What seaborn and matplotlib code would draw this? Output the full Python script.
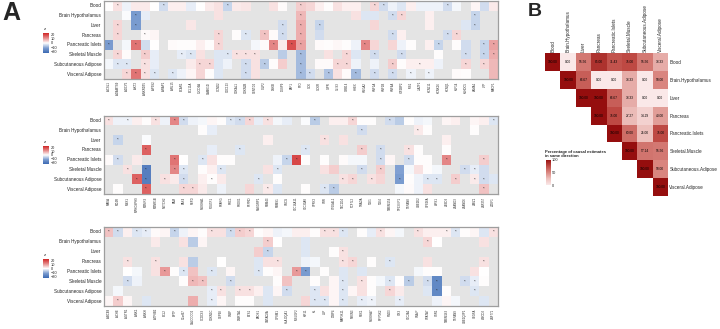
import numpy as np
import pandas as pd
import matplotlib.pyplot as plt
import seaborn as sns
from matplotlib.colors import LinearSegmentedColormap

sns.set_style('white')
plt.rcParams['font.family'] = ['Liberation Sans', 'DejaVu Sans']

tissues = ['Blood', 'Brain Hypothalamus', 'Liver', 'Pancreas', 'Pancreatic Islets',
           'Skeletal Muscle', 'Subcutaneous Adipose', 'Visceral Adipose']
tissues_b = [t.replace(' ', '.') for t in tissues]

# panel A, top
genes_1 = ['ACSL1', 'ADAMTS9', 'ADCY5', 'AKT2', 'ANKRD55', 'AP3S2', 'ARAP1', 'ARL15', 'BCAR1',
           'BCL11A', 'C2CD4A', 'CAMK1D', 'CCND2', 'CDC123', 'CDKAL1', 'CDKN2B', 'CENTD2', 'CILP2',
           'DGKB', 'DUSP9', 'FAF1', 'FTO', 'GCK', 'GCKR', 'GIPR', 'GLIS3', 'GRB14', 'HHEX', 'HMGA2',
           'HNF1A', 'HNF1B', 'HNF4A', 'IGF2BP2', 'IRS1', 'JAZF1', 'KCNJ11', 'KCNK16', 'KCNQ1',
           'KLF14', 'KLHDC5', 'LAMA1', 'LPP', 'MACF1']
# "column:z" per tissue, * = significant, missing = no estimate
z_1 = [
    "0:0 1:3* 2:-1.5 3:2 4:2 5:0 6:-4* 7:1.5 8:1.5 9:-2 10:0 11:2 12:3 13:-5* 14:2 15:2.5 18:3 19:0.5 "
    "21:5* 22:4 23:1.5 24:0.3 25:3 26:1.5 27:1.5 29:4* 30:-4* 31:-1.5 32:-3 33:1.5 34:-1.5 35:-1.5 "
    "36:-1.5 37:-4* 38:-1 40:1 41:-4 42:2",
    "2:-0.5 3:-12* 4:-2 12:3 21:7* 27:3 28:-3 29:-3 31:-4* 32:4* 35:1.5 40:-5*",
    "1:4* 3:-12* 9:2.5 19:-4* 21:8* 23:-5* 29:4 35:1.5 39:-3 40:-5*",
    "1:4* 4:0.5* 5:1 12:4* 14:0.3 15:-3* 17:6* 18:0.5 19:-4* 21:8* 23:-4 31:-4* 32:1.5 37:-4* 38:4*",
    "0:-12* 2:-1 3:14* 4:-4 5:0 7:0.5 8:0.2 9:0.3 10:1.5 11:0.2 12:4* 16:-1 17:0.5 18:12* 19:2 20:18* "
    "21:9* 23:0.5 24:0.2 25:0.8 26:0.3 27:-1.5 28:12* 29:4 31:4 32:-1.5 33:0.2 35:1.5 36:-5* 38:0.2 "
    "39:-4 41:-5* 42:9*",
    "1:4* 2:0.5 4:5* 5:-2 8:-2* 9:-3* 10:3 12:-3 13:-3* 14:3* 15:3* 16:3* 19:-6 21:-8* 24:3 26:4* "
    "27:-3 29:-4* 32:-4* 36:0.3 39:-4* 41:-5* 42:8*",
    "0:-1 1:-3* 2:-3* 4:3* 5:-2 9:2 10:4* 11:4* 12:-3 13:-1.5 15:-4* 16:3 17:-6* 18:0.3 19:5 21:-8* "
    "23:0.5 24:0.5 25:4* 26:4* 27:-1.5 29:-1.5 31:5* 32:0.3 33:1.5 34:1.5* 35:1.5 36:-1.5 39:4* 41:4* 42:7",
    "2:4* 3:14* 4:3* 5:-3* 7:-3* 8:-1.5 9:1 10:4 11:0.3 12:-3 15:-4* 16:3 21:-8* 22:-4* 24:-7* 25:3 "
    "26:0.5 27:-8* 29:-4* 31:-4* 33:-1.5* 35:-1.5* 38:0.5 39:0.3 42:7",
]

# panel A, middle
genes_2 = ['MAEA', 'MC4R', 'MNX1', 'MPHOSPH9', 'MTMR3', 'MTNR1B', 'NOTCH2', 'PAM', 'PAX4', 'PEPD',
           'PLEKHA1', 'POU5F1', 'PPARG', 'PRC1', 'PROX1', 'PTPRD', 'RASGRP1', 'RBM43', 'RBMS1',
           'SGCG', 'SLC16A11', 'SLC30A8', 'SPRY2', 'SRR', 'ST6GAL1', 'TBC1D4', 'TCF7L2', 'THADA',
           'TLE1', 'TLE4', 'TMEM154', 'TP53INP1', 'TSPAN8', 'UBE2E2', 'VPS26A', 'WFS1', 'ZBED3',
           'ZFAND3', 'ZFAND6', 'ZMIZ1', 'ZNF257', 'ZZEF1']
z_2 = [
    "0:3* 1:-1.5 2:-1.5* 3:1.5 4:0.3 5:3* 6:-1.5 7:12* 8:-4* 9:-1.5 10:-1 11:1 12:0.3 13:-3* 14:-4* "
    "15:4* 16:-2 17:3* 18:-1 19:-2 21:-0.5 22:-6* 24:1.5 25:1.5 26:4* 27:0.3 28:0.2 30:-4* 31:-6 "
    "32:0.3 33:-1.5 34:-1 36:1 37:1.5 39:1 40:1.5 41:-3*",
    "10:0.2 11:-2 27:-4* 33:2* 34:0.2 39:0.2",
    "1:-5* 4:-0.5 17:1.5 23:3* 25:3 36:1.5",
    "4:16* 11:-2 14:-3* 21:-3* 27:5* 29:-4* 32:3* 33:0.2 36:0.3",
    "0:0.5 1:-4* 3:2 7:14* 8:0.1 10:-3* 11:3 12:0.3 13:0.2 18:-1.5 19:-5* 20:19* 21:0.2 23:0.2 25:0.5 "
    "26:-1 27:-1 29:-4* 30:1 32:-4* 33:0.2 34:0.3 36:12* 40:5*",
    "2:3* 4:-18* 7:12* 8:-3* 10:0.3 11:1.5 12:-3* 17:3 18:-3* 23:3 24:5 27:-4* 29:5* 31:-11 32:-1 "
    "33:3 34:0.3 35:-1 38:-4* 39:-2* 40:-4",
    "3:16* 4:-18* 6:3* 7:2 8:-4* 10:1.5 11:0.3* 12:2 16:-3* 18:0.3 25:3* 26:4* 28:3* 29:4 31:-12* "
    "32:0.3 33:-1.5 34:-3* 35:-3* 37:5* 39:2* 40:-4* 41:-3",
    "1:0.2 4:16* 8:4* 9:4* 10:2 12:-1.5 15:4 17:2* 18:-3 21:0.2 23:-3* 24:-6* 31:-1 32:0.5 33:-1.5 "
    "34:3 40:6*",
]

# panel A, bottom
genes_3 = ['ABCB9', 'ACHE', 'AGTR1', 'ANK1', 'ANKH', 'ATP8B2', 'BCL2', 'BPTF', 'C5orf67',
           'CALCOCO2', 'CCDC63', 'CDKN1C', 'CEP68', 'CMIP', 'DMRTA1', 'ETS1', 'FADS1', 'GATAD2A',
           'GPSM1', 'HLA-DQA1', 'INS-IGF2', 'KIF11', 'KL', 'LEP', 'LTBP4', 'MAP3K11', 'NRXN3',
           'PDX1', 'PLEKHA7', 'PPIP5K2', 'RND3', 'SIX3', 'SLC2A2', 'SNAIP', 'SPATA7', 'SSR1',
           'TMEM163', 'TSPAN9', 'UBE2Q2P1', 'VEGFA', 'WSCD2', 'ZNF771']
z_3 = [
    "0:6* 1:-4* 2:1.5 3:-3* 4:-2* 5:0.5 6:1 7:-5* 8:-1.5 9:1 10:0.3 11:3* 12:3 13:-4* 14:5* 15:4* "
    "16:0.2 17:1 18:-1.5 19:-1 20:1.5 21:1.5 22:0.2 23:3* 24:3* 25:-3* 27:0.3 28:-2 29:3* 30:1 31:-1 "
    "33:3* 34:1.5 35:1.5 36:1.5* 37:-3* 38:0.3 39:1 40:-3 41:3*",
    "5:2 8:3 9:-6 10:1 17:5* 18:0.1 21:-3 34:4* 35:0.1 40:3",
    "16:5 17:-5* 21:-3 24:0.2 25:3*",
    "2:3* 5:3* 8:3 9:-6 12:0.1 16:-3 17:3 18:3* 21:-1.5 22:-1 25:3* 26:4* 28:0.2 30:-3* 34:3 40:3*",
    "2:0.1 3:-1 5:3 6:10* 7:0.2 8:-3* 9:6 11:-3* 13:1 16:-3* 17:0.2 18:1 20:10* 21:-12* 23:0.2 25:-3 "
    "27:-3 33:-1 34:0.2 35:0.2 39:3 40:0.1",
    "2:-4* 3:-1.5 8:0.2 9:7* 10:6* 13:-4* 18:0.2 19:6 22:0.2 24:1 25:-3* 27:3* 28:0.3 29:-1 30:-3* "
    "31:0.3 32:-6* 34:-4* 35:-16* 38:-4* 39:-2* 40:0.2",
    "1:-1 11:-2* 12:3* 14:3* 15:3* 16:1.5 17:-3 18:1 19:-4* 22:-3* 23:3 24:1 25:-3* 26:1 27:3 28:0.3 "
    "30:4* 31:2 34:-3 35:-16* 36:0.2 39:-3*",
    "0:1 1:5* 2:1 4:-3 9:8 11:-2* 12:1 14:0.2 15:0.2 17:-3 21:4 22:-3* 23:-3* 24:1 25:-3* 27:-2* "
    "28:-1.5* 31:-2* 35:-1.5 36:1 37:-1 40:-3",
]

# panel B: % of causal estimates in same direction (upper triangle)
n = np.nan
pct_blood = [100, 0, 55.56, 85.00, 71.43, 75.00, 55.56, 33.33]
pct_brain = [n, 100, 66.67, 0, 0, 33.33, 0, 50.00]
pct_liver = [n, n, 100, 100, 66.67, 33.33, 0, 0]
pct_pancreas = [n, n, n, 100, 75.00, 27.27, 14.29, 40.00]
pct_islets = [n, n, n, n, 100, 60.00, 25.00, 75.00]
pct_muscle = [n, n, n, n, n, 100, 57.14, 55.56]
pct_subq = [n, n, n, n, n, n, 100, 50.00]
pct_visc = [n, n, n, n, n, n, n, 100]


def parse(rows, ncol):
    vals = np.full((len(rows), ncol), np.nan)
    stars = np.full((len(rows), ncol), '', dtype=object)
    for i, row in enumerate(rows):
        for tok in row.split():
            c, v = tok.split(':')
            if v.endswith('*'):
                stars[i, int(c)] = '*'
                v = v[:-1]
            vals[i, int(c)] = float(v)
    return vals, stars


W, H = 720, 329


def box(x0, y0, x1, y1):
    return [x0 / W, 1 - y1 / H, (x1 - x0) / W, (y1 - y0) / H]


fig = plt.figure(figsize=(7.2, 3.29), dpi=100)

cmap_z = LinearSegmentedColormap.from_list('z', ['#3A68B2', '#7C9DD0', '#FFFFFF', '#E58A8A', '#D02424'])
cmap_b = LinearSegmentedColormap.from_list('b', ['#FAE8E8', '#EDC0BC', '#D9857F', '#BE4A44', '#950E0E'])

panels = [
    (z_1, genes_1, (104, 1, 498, 79), (43, 33, 49, 53), 31),
    (z_2, genes_2, (104, 115.5, 498, 194), (43, 146, 49, 164), 144),
    (z_3, genes_3, (104, 227, 498, 306), (43, 259, 49, 278), 257),
]

for rows, genes, hb, cb, zt in panels:
    vals, stars = parse(rows, len(genes))
    df = pd.DataFrame(vals, index=tissues, columns=genes)
    ax = fig.add_axes(box(*hb))
    cax = fig.add_axes(box(*cb))
    ax.set_facecolor('#E4E4E4')
    sns.heatmap(df, ax=ax, cmap=cmap_z, vmin=-23, vmax=23, annot=stars, fmt='',
                annot_kws=dict(size=3.2, color='#222222'), cbar_ax=cax,
                cbar_kws=dict(ticks=[20, 10, 0, -10, -20]),
                xticklabels=genes, yticklabels=tissues)
    ax.tick_params(axis='x', labelsize=2, rotation=90, length=1, width=0.3, pad=1, color='#555555')
    ax.tick_params(axis='y', labelsize=3.3, rotation=0, length=1, width=0.3, pad=1, color='#555555')
    ax.set_xlabel('')
    ax.set_ylabel('')
    for sp in ax.spines.values():
        sp.set_visible(True)
        sp.set_color('#9E9E9E')
        sp.set_linewidth(0.9)
    cax.tick_params(labelsize=2.8, length=0, pad=1)
    ax.collections[0].colorbar.outline.set_visible(False)
    fig.text(43.5 / W, 1 - zt / H, 'z', fontsize=3.2, va='bottom')

# panel B
pct = pd.DataFrame([pct_blood, pct_brain, pct_liver, pct_pancreas, pct_islets,
                    pct_muscle, pct_subq, pct_visc], index=tissues_b, columns=tissues_b)
axb = fig.add_axes(box(545, 53, 668, 196))
caxb = fig.add_axes(box(545.5, 159.5, 550.5, 185))
sns.heatmap(pct, ax=axb, cmap=cmap_b, vmin=0, vmax=100, annot=True, fmt='.2f',
            annot_kws=dict(size=2.3, color='black'), cbar_ax=caxb,
            cbar_kws=dict(ticks=[0, 50, 100]), xticklabels=tissues_b, yticklabels=tissues_b)
axb.set_facecolor('white')
axb.xaxis.tick_top()
axb.yaxis.tick_right()
axb.tick_params(axis='x', labelsize=3.3, rotation=90, length=0, pad=1)
axb.tick_params(axis='y', labelsize=3.3, rotation=0, length=0, pad=1)
for lab in axb.get_xticklabels():
    lab.set_va('bottom')
axb.set_xlabel('')
axb.set_ylabel('')
caxb.tick_params(labelsize=2.8, length=0, pad=1)
axb.collections[0].colorbar.outline.set_visible(False)
fig.text(545 / W, 1 - 158.5 / H, 'Percentage of causal estimates\nin same direction',
         fontsize=3, fontweight='bold', va='bottom', linespacing=1.1)

fig.text(2 / W, 1 - 1 / H, 'A', fontsize=18, fontweight='bold', va='top')
fig.text(528 / W, 1 - 3 / H, 'B', fontsize=14, fontweight='bold', va='top')

fig.savefig('out.png', dpi=100)
